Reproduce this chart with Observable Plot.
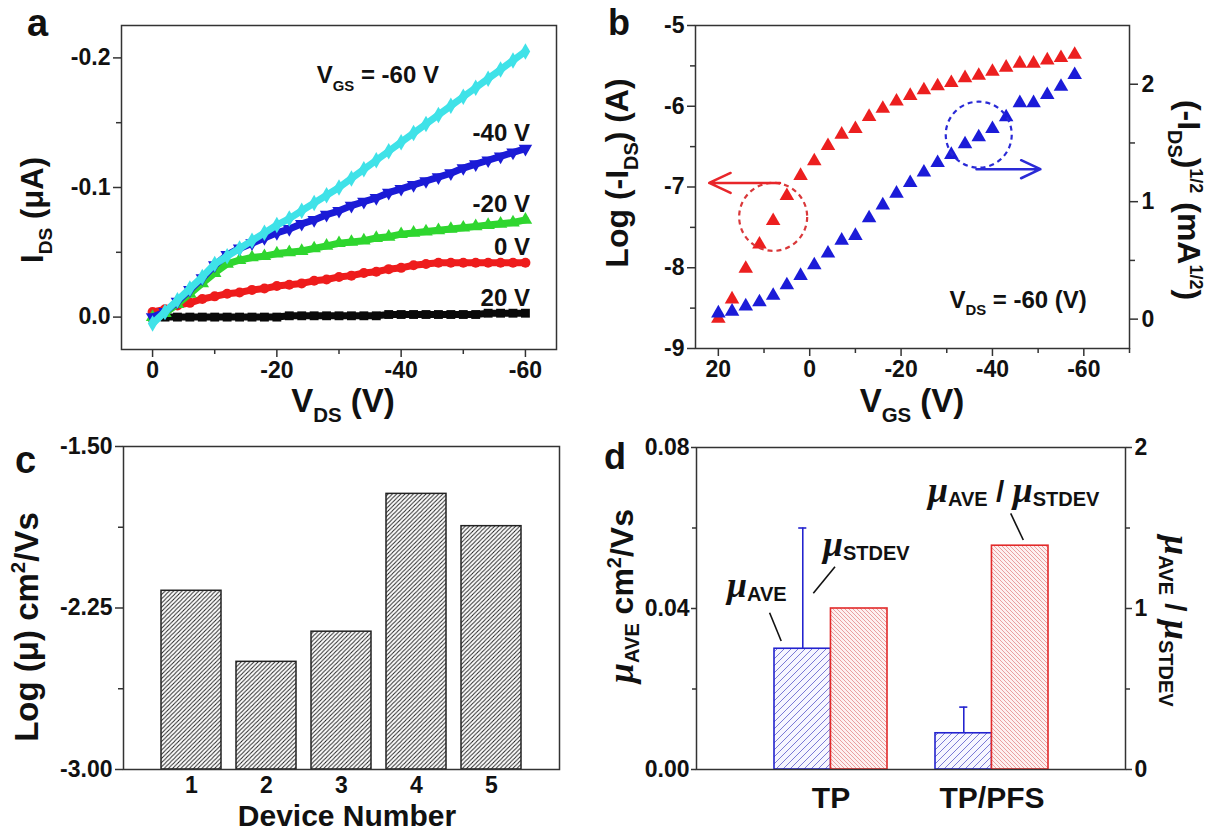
<!DOCTYPE html>
<html><head><meta charset="utf-8">
<script src="https://cdn.jsdelivr.net/npm/d3@7"></script>
<script src="https://cdn.jsdelivr.net/npm/@observablehq/plot@0.6"></script>
<style>
html,body{margin:0;padding:0;background:#fff;}
#fig{position:relative;width:1208px;height:832px;overflow:hidden;background:#fff;}
#fig svg{position:absolute;}
</style></head><body><div id="fig"></div>
<script>
// ---------- Panel a : output curves ----------
const vds = [0,-2,-4,-6,-8,-10,-12,-14,-16,-18,-20,-22,-24,-26,-28,-30,-32,-34,-36,-38,-40,-42,-44,-46,-48,-50,-52,-54,-56,-58,-60];
const idsVgs20  = [0.000,0.000,0.000,0.000,0.000,0.000,0.000,0.000,0.000,0.000,0.000,-0.001,-0.001,-0.001,-0.001,-0.001,-0.001,-0.001,-0.001,-0.002,-0.002,-0.002,-0.002,-0.002,-0.002,-0.002,-0.002,-0.003,-0.003,-0.003,-0.003];
const idsVgs0   = [-0.004,-0.006,-0.009,-0.011,-0.014,-0.016,-0.018,-0.019,-0.021,-0.022,-0.024,-0.025,-0.026,-0.028,-0.029,-0.031,-0.032,-0.034,-0.035,-0.037,-0.038,-0.040,-0.041,-0.042,-0.042,-0.042,-0.042,-0.042,-0.042,-0.042,-0.042];
const idsVgsM20 = [0.000,-0.003,-0.010,-0.018,-0.026,-0.034,-0.041,-0.044,-0.046,-0.047,-0.049,-0.050,-0.051,-0.053,-0.055,-0.057,-0.058,-0.059,-0.061,-0.062,-0.064,-0.065,-0.066,-0.067,-0.068,-0.069,-0.070,-0.071,-0.072,-0.073,-0.075];
const idsVgsM40 = [0.000,-0.004,-0.012,-0.021,-0.030,-0.040,-0.048,-0.053,-0.057,-0.061,-0.065,-0.068,-0.072,-0.075,-0.079,-0.082,-0.086,-0.089,-0.092,-0.096,-0.099,-0.102,-0.105,-0.108,-0.111,-0.115,-0.118,-0.121,-0.124,-0.127,-0.130];
const idsVgsM60 = [0.005,-0.004,-0.013,-0.022,-0.031,-0.041,-0.047,-0.053,-0.059,-0.065,-0.071,-0.076,-0.082,-0.088,-0.094,-0.100,-0.107,-0.114,-0.121,-0.128,-0.135,-0.142,-0.149,-0.156,-0.163,-0.170,-0.177,-0.184,-0.191,-0.198,-0.205];
const vgsLabels = ["20 V","0 V","-20 V","-40 V","-60 V"];
const aTicksY = [0,-0.1,-0.2];
const aTicksX = [0,-20,-40,-60];

// ---------- Panel b : transfer curve ----------
const vgs = [20,17,14,11,8,5,2,-1,-4,-7,-10,-13,-16,-19,-22,-25,-28,-31,-34,-37,-40,-43,-46,-49,-52,-55,-58];
const logIds = [-8.63,-8.39,-8.01,-7.71,-7.42,-7.11,-6.86,-6.68,-6.49,-6.35,-6.28,-6.13,-6.03,-5.94,-5.87,-5.80,-5.75,-5.71,-5.65,-5.62,-5.57,-5.52,-5.47,-5.47,-5.43,-5.40,-5.36];
const sqrtIds = [0.05,0.065,0.11,0.145,0.20,0.29,0.37,0.46,0.56,0.67,0.71,0.86,0.97,1.07,1.16,1.25,1.33,1.40,1.49,1.55,1.62,1.72,1.84,1.84,1.91,1.98,2.08];
const bTicksLeft = [-5,-6,-7,-8,-9];
const bTicksRight = [0,1,2];
const bTicksX = [20,0,-20,-40,-60];

// ---------- Panel c : mobility per device ----------
const devices = [1,2,3,4,5];
const logMobility = [-2.17,-2.50,-2.36,-1.72,-1.87];
const cTicksY = [-1.5,-2.25,-3.0];

// ---------- Panel d : average / stdev ----------
const groups = ["TP","TP/PFS"];
const muAve = [0.030,0.009];
const muStdev = [0.030,0.0065];
const aveOverStdev = [1.00,1.39];
const dTicksLeft = [0,0.04,0.08];
const dTicksRight = [0,1,2];

// ---------- helpers ----------
const FONT = "'Liberation Sans', Arial, Helvetica, sans-serif";
const fig = document.getElementById("fig");
const baseStyle = {fontFamily: FONT, fontSize: "23px", fontWeight: "bold", background: "transparent", overflow: "visible", color: "#111"};
const AX = {stroke: "#333", strokeWidth: 1.5, label: null, fontWeight: "bold"};
const blank = () => "";

function place(svg, left, top) {
  svg.style.position = "absolute";
  svg.style.left = left + "px";
  svg.style.top = top + "px";
  svg.style.overflow = "visible";
  fig.appendChild(svg);
  return svg;
}
function scaler(svg, name) {
  const s = svg.scale(name);
  return s.apply ? (v) => s.apply(v) : d3.scaleLinear(s.domain, s.range);
}
function rich(svg, x, y, parts, o = {}) {
  const size = o.size || 24;
  const t = d3.select(svg).append("text")
    .attr("transform", `translate(${x},${y})` + (o.rotate ? ` rotate(${o.rotate})` : ""))
    .attr("text-anchor", o.anchor || "start")
    .attr("font-size", size).attr("font-weight", "bold")
    .attr("font-family", FONT).attr("fill", "#111")
    .style("white-space", "pre");
  let shift = 0;
  for (const p of parts) {
    const [s, q] = typeof p === "string" ? [p, {}] : p;
    const fs = q.size || ((q.sub || q.sup) ? size * 0.62 : size);
    const target = q.dy != null ? q.dy : q.sub ? size * 0.3 : q.sup ? -size * 0.38 : 0;
    const ts = t.append("tspan").attr("dy", target - shift).attr("font-size", fs).text(s);
    shift = target;
    if (q.italic) ts.attr("font-style", "italic");
    if (q.family) ts.attr("font-family", q.family);
  }
  return t;
}
function hatch(svg, id, s, dir, line, bg, w) {
  let defs = d3.select(svg).select("defs");
  if (defs.empty()) defs = d3.select(svg).insert("defs", ":first-child");
  const p = defs.append("pattern").attr("id", id).attr("patternUnits", "userSpaceOnUse").attr("width", s).attr("height", s);
  p.append("rect").attr("width", s).attr("height", s).attr("fill", bg);
  const d = dir === "/"
    ? `M0,${s} L${s},0 M${-s/4},${s/4} L${s/4},${-s/4} M${s*3/4},${s*5/4} L${s*5/4},${s*3/4}`
    : `M0,0 L${s},${s} M${-s/4},${s*3/4} L${s/4},${s*5/4} M${s*3/4},${-s/4} L${s*5/4},${s/4}`;
  p.append("path").attr("d", d).attr("stroke", line).attr("stroke-width", w).attr("fill", "none");
}

// ================= Panel a =================
{
  const series = [
    {name: vgsLabels[0], values: idsVgs20,  color: "#0a0a0a", symbol: "square",   rotate: 0},
    {name: vgsLabels[1], values: idsVgs0,   color: "#ee1c1c", symbol: "circle",   rotate: 0},
    {name: vgsLabels[2], values: idsVgsM20, color: "#2fd62f", symbol: "triangle", rotate: 0},
    {name: vgsLabels[3], values: idsVgsM40, color: "#1b1bd6", symbol: "triangle", rotate: 180},
    {name: vgsLabels[4], values: idsVgsM60, color: "#3fe2e8", symbol: "diamond",  rotate: 0}
  ];
  const marks = [];
  for (const s of series) {
    const rows = vds.map((v, i) => ({vds: v, ids: s.values[i]}));
    marks.push(Plot.line(rows, {x: "vds", y: "ids", stroke: s.color, strokeWidth: 7}));
    marks.push(Plot.dot(rows, {x: "vds", y: "ids", symbol: s.symbol, rotate: s.rotate, fill: s.color, r: 5}));
  }
  const svg = Plot.plot({
    width: 604, height: 416, marginLeft: 121, marginRight: 48, marginTop: 25, marginBottom: 67,
    style: baseStyle,
    x: {domain: [5, -65]},
    y: {domain: [0.025, -0.225]},
    marks: [
      ...marks,
      Plot.axisY(aTicksY, {...AX, tickSize: 8, tickPadding: 3, tickFormat: d => d.toFixed(1)}),
      Plot.axisY([-0.05, -0.15], {...AX, tickSize: 5, tickFormat: blank}),
      Plot.axisX(aTicksX, {...AX, tickSize: 8, tickPadding: 4, tickFormat: d => String(d)}),
      Plot.axisX([-10, -30, -50], {...AX, tickSize: 5, tickFormat: blank}),
      Plot.frame({stroke: "#333", strokeWidth: 1.5})
    ]
  });
  place(svg, 0, 0);
  const sx = scaler(svg, "x"), sy = scaler(svg, "y");
  rich(svg, 27, 36, ["a"], {size: 38});
  rich(svg, 43, 210, ["I", ["DS", {sub: true}], " (μA)"], {size: 31, rotate: -90, anchor: "middle"});
  rich(svg, 343, 412, ["V", ["DS", {sub: true}], " (V)"], {size: 33, anchor: "middle"});
  rich(svg, sx(-26.5), sy(-0.18), ["V", ["GS", {sub: true}], " = -60 V"], {size: 24});
  series.slice(0, 4).forEach(s => {
    rich(svg, sx(-60) + 5, sy(s.values[s.values.length - 1]) - 7, [s.name], {size: 24, anchor: "end"});
  });
}

// ================= Panel b =================
{
  const toLeft = v => -9 + (v + 0.25) * 4 / 2.75;
  const fromLeft = d => (d + 9) * 2.75 / 4 - 0.25;
  const rows = vgs.map((v, i) => ({vgs: v, log: logIds[i], sqrt: sqrtIds[i]}));
  const svg = Plot.plot({
    width: 604, height: 416, marginLeft: 91, marginRight: 79, marginTop: 25, marginBottom: 68,
    style: baseStyle,
    x: {domain: [25, -70]},
    y: {domain: [-9, -5]},
    marks: [
      Plot.dot(rows, {x: "vgs", y: "log", symbol: "triangle", fill: "#ec1f1f", r: 5.4}),
      Plot.dot(rows, {x: "vgs", y: d => toLeft(d.sqrt), symbol: "triangle", fill: "#1b1bd8", r: 5.4}),
      Plot.dot([rows[4]], {x: "vgs", y: d => d.log + 0.05, r: 34, stroke: "#d9383a", strokeWidth: 2.2, strokeDasharray: "5,4", fill: "none"}),
      Plot.dot([rows[19]], {x: "vgs", y: d => toLeft(d.sqrt) + 0.03, r: 33, stroke: "#2a2ad6", strokeWidth: 2.2, strokeDasharray: "5,4", fill: "none"}),
      Plot.arrow([{x1: 6.5, x2: 22, y: -6.95}], {x1: "x1", x2: "x2", y1: "y", y2: "y", stroke: "#e8262a", strokeWidth: 2.5, headLength: 16, headAngle: 50}),
      Plot.arrow([{x1: -36.5, x2: -50.5, y: -6.78}], {x1: "x1", x2: "x2", y1: "y", y2: "y", stroke: "#2a2ad6", strokeWidth: 2.5, headLength: 16, headAngle: 50}),
      Plot.axisY(bTicksLeft, {...AX, tickSize: 8, tickPadding: 3, tickFormat: d => String(d)}),
      Plot.axisY([-5.5, -6.5, -7.5, -8.5], {...AX, tickSize: 5, tickFormat: blank}),
      Plot.axisY(bTicksRight.map(toLeft), {...AX, anchor: "right", tickSize: 8, tickPadding: 4, tickFormat: d => String(Math.round(fromLeft(d)))}),
      Plot.axisY([0.5, 1.5].map(toLeft), {...AX, anchor: "right", tickSize: 5, tickFormat: blank}),
      Plot.axisX(bTicksX, {...AX, tickSize: 8, tickPadding: 4, tickFormat: d => String(d)}),
      Plot.axisX([10, -10, -30, -50, -70], {...AX, tickSize: 5, tickFormat: blank}),
      Plot.frame({stroke: "#333", strokeWidth: 1.5})
    ]
  });
  place(svg, 604, 0);
  const sx = scaler(svg, "x"), sy = scaler(svg, "y");
  rich(svg, 4, 35, ["b"], {size: 36});
  rich(svg, 24, 173, ["Log (-I", ["DS", {sub: true}], ") (A)"], {size: 32, rotate: -90, anchor: "middle"});
  rich(svg, 574, 200, ["(-I", ["DS", {sub: true}], ")", ["1/2", {sup: true, size: 18}], " (mA", ["1/2", {sup: true, size: 18}], ")"], {size: 32, rotate: 90, anchor: "middle"});
  rich(svg, 308, 412, ["V", ["GS", {sub: true}], " (V)"], {size: 33, anchor: "middle"});
  rich(svg, sx(-30.7), sy(-8.5), ["V", ["DS", {sub: true}], " = -60 (V)"], {size: 24});
}

// ================= Panel c =================
{
  const rows = devices.map((d, i) => ({dev: d, mu: logMobility[i]}));
  const svg = Plot.plot({
    width: 604, height: 416, marginLeft: 123, marginRight: 45, marginTop: 30, marginBottom: 63,
    style: baseStyle,
    x: {type: "band", domain: devices, paddingInner: 0.2, paddingOuter: 0.5},
    y: {domain: [-3, -1.5]},
    marks: [
      Plot.barY(rows, {x: "dev", y1: -3, y2: "mu", fill: "url(#hatchC)", stroke: "#222", strokeWidth: 1.5}),
      Plot.axisY(cTicksY, {...AX, tickSize: 8, tickPadding: 3, tickFormat: d => d.toFixed(2)}),
      Plot.axisY([-1.875, -2.625], {...AX, tickSize: 5, tickFormat: blank}),
      Plot.axisX(devices, {...AX, tickSize: 0, tickPadding: 7, tickFormat: d => String(d)}),
      Plot.frame({stroke: "#333", strokeWidth: 1.5})
    ]
  });
  place(svg, 0, 416);
  hatch(svg, "hatchC", 4.2, "/", "#222", "#ffffff", 1);
  rich(svg, 15, 57, ["c"], {size: 38});
  rich(svg, 38, 211, ["Log (μ) cm", ["2", {sup: true}], "/Vs"], {size: 33, rotate: -90, anchor: "middle"});
  rich(svg, 347, 410, ["Device Number"], {size: 30, anchor: "middle"});
}

// ================= Panel d =================
{
  const mL = 92, mR = 83, pI = 0.3, pO = 0.48;
  const step = (604 - mL - mR) / (groups.length - pI + 2 * pO);
  const half = step * (1 - pI) / 2;
  const k = 0.08 / 2; // right axis (0..2) onto left axis (0..0.08)
  const rows = groups.map((g, i) => ({g, ave: muAve[i], sd: muStdev[i], ratio: aveOverStdev[i]}));
  const svg = Plot.plot({
    width: 604, height: 416, marginLeft: mL, marginRight: mR, marginTop: 31, marginBottom: 63,
    style: baseStyle,
    x: {type: "band", domain: groups, paddingInner: pI, paddingOuter: pO, axis: null},
    y: {domain: [0, 0.08]},
    marks: [
      Plot.barY(rows, {x: "g", y1: 0, y2: "ave", insetRight: half, fill: "url(#hatchBlue)", stroke: "#2323cf", strokeWidth: 1.6}),
      Plot.barY(rows, {x: "g", y1: 0, y2: d => d.ratio * k, insetLeft: half, fill: "url(#hatchRed)", stroke: "#e22a2a", strokeWidth: 1.6}),
      Plot.ruleX(rows, {x: "g", y1: "ave", y2: d => d.ave + d.sd, dx: -half / 2, stroke: "#2323cf", strokeWidth: 1.6}),
      Plot.tickY(rows, {x: "g", y: d => d.ave + d.sd, insetLeft: half / 2 - 4, insetRight: half * 1.5 - 4, stroke: "#2323cf", strokeWidth: 1.6}),
      Plot.axisY(dTicksLeft, {...AX, tickSize: 5, tickPadding: 2, tickFormat: d => d.toFixed(2)}),
      Plot.axisY([0.02, 0.06], {...AX, tickSize: 4, tickFormat: blank}),
      Plot.axisY(dTicksRight.map(v => v * k), {...AX, anchor: "right", tickSize: 6, tickPadding: 3, tickFormat: d => String(Math.round(d / k))}),
      Plot.axisY([0.5, 1.5].map(v => v * k), {...AX, anchor: "right", tickSize: 4, tickFormat: blank}),
      Plot.text(groups, {x: d => d, frameAnchor: "bottom", dy: 38, fontSize: 30, fontWeight: "bold", fill: "#111"}),
      Plot.frame({stroke: "#333", strokeWidth: 1.5})
    ]
  });
  place(svg, 604, 416);
  hatch(svg, "hatchBlue", 7, "/", "#6c6cd0", "#f6f6ff", 0.9);
  hatch(svg, "hatchRed", 4, "\\", "#e58a8a", "#fdf0f0", 0.8);
  const g = d3.select(svg);
  const mu = ["μ", {italic: true, family: "'Liberation Serif', 'DejaVu Serif', serif", size: 36}];
  rich(svg, 0, 53, ["d"], {size: 36});
  rich(svg, 29, 180, [mu, ["AVE", {sub: true, size: 20, dy: 6}], " cm", ["2", {sup: true}], "/Vs"], {size: 32, rotate: -90, anchor: "middle"});
  rich(svg, 561, 205, [mu, ["AVE", {sub: true, size: 20, dy: 6}], [" / ", {dy: 0, size: 30}], mu, ["STDEV", {sub: true, size: 20, dy: 6}]], {size: 30, rotate: 90, anchor: "middle"});
  rich(svg, 123, 181, [mu, ["AVE", {sub: true, size: 20, dy: 4}]], {size: 32});
  rich(svg, 219, 140, [mu, ["STDEV", {sub: true, size: 20, dy: 4}]], {size: 32});
  rich(svg, 324, 86, [mu, ["AVE", {sub: true, size: 20, dy: 4}], [" / ", {dy: 0, size: 30}], mu, ["STDEV", {sub: true, size: 20, dy: 4}]], {size: 32});
  const leaders = [[165.6, 196.7, 177.2, 225], [231, 150.7, 209.3, 177.3], [406.7, 97.3, 419.3, 124]];
  for (const [x1, y1, x2, y2] of leaders) {
    g.append("line").attr("x1", x1).attr("y1", y1).attr("x2", x2).attr("y2", y2).attr("stroke", "#111").attr("stroke-width", 1.6);
  }
}
</script>
</body></html>
